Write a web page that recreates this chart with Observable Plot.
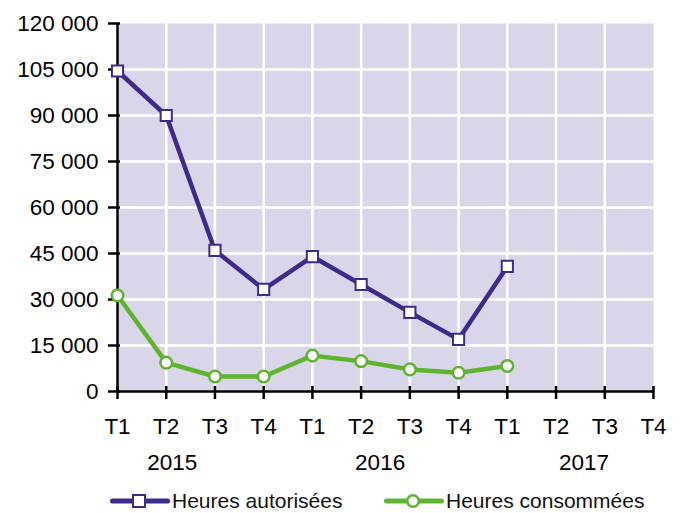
<!DOCTYPE html>
<html>
<head>
<meta charset="utf-8">
<script src="https://cdn.jsdelivr.net/npm/d3@7"></script>
<script src="https://cdn.jsdelivr.net/npm/@observablehq/plot@0.6"></script>
<style>
  html, body { margin: 0; padding: 0; background: white; }
  #wrap { width: 683px; position: relative; font-family: "Liberation Sans", Arial, sans-serif; }
  #legend { position: relative; width: 683px; height: 33px; }
  .item { position: absolute; top: 4px; height: 33px; display: flex; align-items: center; font-size: 21px; color: #111; }
  .item svg { display: block; margin-right: 2px; }
</style>
</head>
<body>
<div id="wrap">
  <div id="chart"></div>
  <div id="legend"></div>
</div>
<script>
const years = ["2015", "2016", "2017"];
const quarters = ["T1", "T2", "T3", "T4"];
const periods = years.flatMap(y => quarters.map(q => y + " " + q));
const autorisees = [104500, 90000, 46000, 33300, 44000, 34900, 25800, 17000, 40800];
const consommees = [31300, 9400, 4900, 4900, 11700, 9900, 7200, 6100, 8300];
const yTicks = [0, 15000, 30000, 45000, 60000, 75000, 90000, 105000, 120000];
const seriesNames = ["Heures autorisées", "Heures consommées"];

const purple = "#3f2a8c";
const green = "#5fb42e";
const bg = "#d9d6ea";

const dataA = autorisees.map((v, i) => ({p: periods[i], v}));
const dataC = consommees.map((v, i) => ({p: periods[i], v}));
const fmt = d => d3.format(",")(d).replace(/,/g, " ");

const chart = Plot.plot({
  width: 683,
  height: 480,
  marginLeft: 117,
  marginRight: 30,
  marginTop: 23,
  marginBottom: 89,
  x: {type: "point", domain: periods, padding: 0, round: false, label: null},
  y: {domain: [0, 120000], label: null},
  style: {fontFamily: "'Liberation Sans', Arial, sans-serif", fontSize: "22.5px", color: "black", background: "white", overflow: "visible"},
  marks: [
    Plot.frame({fill: bg, stroke: null}),
    Plot.gridY(yTicks.slice(1, -1), {stroke: "white", strokeOpacity: 1, strokeWidth: 2.5}),
    Plot.gridX(periods.slice(1, -1), {stroke: "white", strokeOpacity: 1, strokeWidth: 2.5}),
    Plot.ruleY([0], {stroke: "black", strokeWidth: 2.5}),
    Plot.ruleX([periods[0]], {stroke: "black", strokeWidth: 2.5}),
    Plot.axisX({ticks: periods, tickSize: 13, dy: -5, tickFormat: () => "", strokeWidth: 2.5, label: null}),
    Plot.axisX({ticks: periods, tickSize: 0, tickPadding: 27, tickFormat: d => d.split(" ")[1], fontSize: 22.5, label: null}),
    Plot.text([years[0]], {x: () => periods[1], frameAnchor: "bottom", dy: 78, dx: 6, text: d => d, fontSize: 22.5}),
    Plot.text([years[1]], {x: () => periods[5], frameAnchor: "bottom", dy: 78, dx: 19, text: d => d, fontSize: 22.5}),
    Plot.text([years[2]], {x: () => periods[9], frameAnchor: "bottom", dy: 78, dx: 28, text: d => d, fontSize: 22.5}),
    Plot.axisY({ticks: yTicks, tickSize: 12, dx: 3, tickFormat: () => "", strokeWidth: 2.5, label: null}),
    Plot.axisY({ticks: yTicks, tickSize: 0, tickPadding: 19, tickFormat: fmt, fontSize: 22.5, label: null}),
    Plot.line(dataA, {x: "p", y: "v", stroke: purple, strokeWidth: 4.5}),
    Plot.dot(dataA, {x: "p", y: "v", symbol: "square", r: 6.3, fill: "white", stroke: purple, strokeWidth: 2}),
    Plot.line(dataC, {x: "p", y: "v", stroke: green, strokeWidth: 4.5}),
    Plot.dot(dataC, {x: "p", y: "v", symbol: "circle", r: 5.8, fill: "white", stroke: green, strokeWidth: 2.5})
  ]
});
document.getElementById("chart").appendChild(chart);

const legend = document.getElementById("legend");
const items = [
  {name: seriesNames[0], color: purple, shape: "square", left: 110},
  {name: seriesNames[1], color: green, shape: "circle", left: 384}
];
for (const it of items) {
  const div = document.createElement("div");
  div.className = "item";
  div.style.left = it.left + "px";
  const marker = it.shape === "square"
    ? `<rect x="23" y="10" width="12" height="12" fill="white" stroke="${it.color}" stroke-width="2"/>`
    : `<circle cx="29" cy="16" r="5.8" fill="white" stroke="${it.color}" stroke-width="2.5"/>`;
  div.innerHTML = `<svg width="60" height="32"><line x1="2.5" y1="16" x2="57.5" y2="16" stroke="${it.color}" stroke-width="5" stroke-linecap="round"/>${marker}</svg><span>${it.name}</span>`;
  legend.appendChild(div);
}
</script>
</body>
</html>
